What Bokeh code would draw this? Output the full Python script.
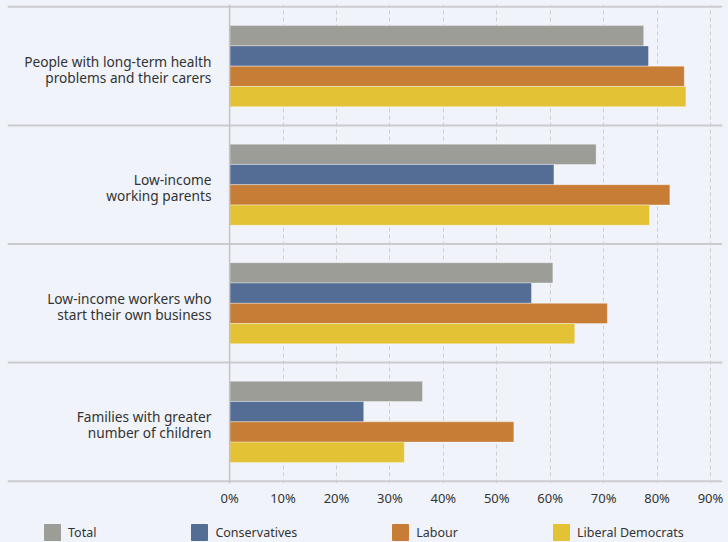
from bokeh.plotting import figure
from bokeh.layouts import column
from bokeh.models import Range1d, FixedTicker, PrintfTickFormatter, Span, Legend, LegendItem
from bokeh.core.properties import value
from bokeh.embed import file_html
from bokeh.resources import INLINE

categories = [
    "People with long-term health\nproblems and their carers",
    "Low-income\nworking parents",
    "Low-income workers who\nstart their own business",
    "Families with greater\nnumber of children",
]
parties = ["Total", "Conservatives", "Labour", "Liberal Democrats"]
total = [77.5, 68.6, 60.5, 36.1]
conservatives = [78.4, 60.7, 56.5, 25.1]
labour = [85.1, 82.4, 70.7, 53.2]
libdem = [85.4, 78.6, 64.6, 32.7]
x_ticks = [0, 10, 20, 30, 40, 50, 60, 70, 80, 90]

colors = ["#9d9d98", "#536d95", "#c77d36", "#e3c235"]
BG = "#f0f3fa"
FONT = "Noto Sans"
TXT = "#333333"

p = figure(width=728, height=512, output_backend="svg", toolbar_location=None,
           x_range=Range1d(-41.57, 92.25), y_range=Range1d(-0.02, 4.02),
           min_border_left=7, min_border_right=6, min_border_top=4, min_border_bottom=29,
           background_fill_color=BG, border_fill_color=BG, outline_line_color=None,
           y_axis_location=None)

p.ygrid.visible = False
p.xgrid.grid_line_color = "#cfcfcf"
p.xgrid.grid_line_dash = "4 3"
p.xgrid.grid_line_width = 1

n = len(categories)
bar_h = 0.171
series = [total, conservatives, labour, libdem]
bar_rows = []
for j, (vals, col) in enumerate(zip(series, colors)):
    off = (1.5 - j) * bar_h
    ys = [n - 0.5 - i + off for i in range(n)]
    bar_rows.append((ys, vals, col))
    p.hbar(y=ys, left=0, right=vals, height=bar_h, fill_color=col,
           line_color="white", line_alpha=0.35, line_width=1)

for k in range(n + 1):
    p.add_layout(Span(location=k, dimension="width", line_color="#cccccc", line_width=2))
p.add_layout(Span(location=0, dimension="height", line_color="#c4c4c4", line_width=1.5))

p.text(x=[-3.4] * n, y=[n - 0.525 - i for i in range(n)], text=categories,
       text_align="right", text_baseline="middle", text_font=value(FONT),
       text_font_size="13.7px", text_color=TXT, text_line_height=0.85)

ax = p.xaxis[0]
ax.ticker = FixedTicker(ticks=x_ticks)
ax.formatter = PrintfTickFormatter(format="%d%%")
ax.axis_line_color = None
ax.major_tick_line_color = None
ax.minor_tick_line_color = None
ax.major_tick_out = 0
ax.major_tick_in = 0
ax.major_label_standoff = 5
ax.major_label_text_font = FONT
ax.major_label_text_font_size = "13px"
ax.major_label_text_color = TXT

# legend strip: same bars, drawn out of its visible range, only their swatches show
p2 = figure(width=728, height=30, output_backend="svg", toolbar_location=None,
            x_range=Range1d(0, 1), y_range=Range1d(100, 101),
            min_border_left=0, min_border_right=0, min_border_top=0, min_border_bottom=0,
            background_fill_color=BG, border_fill_color=BG, outline_line_color=None,
            x_axis_location=None, y_axis_location=None)
p2.grid.visible = False
items = []
for name, (ys, vals, col) in zip(parties, bar_rows):
    r = p2.hbar(y=ys, left=0, right=vals, height=bar_h, fill_color=col,
                line_color=col, line_width=1)
    items.append(LegendItem(label=name, renderers=[r]))

legend = Legend(items=items, orientation="horizontal", spacing=93,
                glyph_width=20, glyph_height=20, label_standoff=6, label_height=20,
                padding=0, margin=0, border_line_color=None, background_fill_alpha=0,
                label_text_font=FONT, label_text_font_size="12.5px", label_text_color=TXT,
                location=(35, 0))
p2.add_layout(legend)

layout = column(p, p2, spacing=0)
layout.styles = {"background-color": BG}
open("out.html", "w").write(file_html(layout, INLINE))
